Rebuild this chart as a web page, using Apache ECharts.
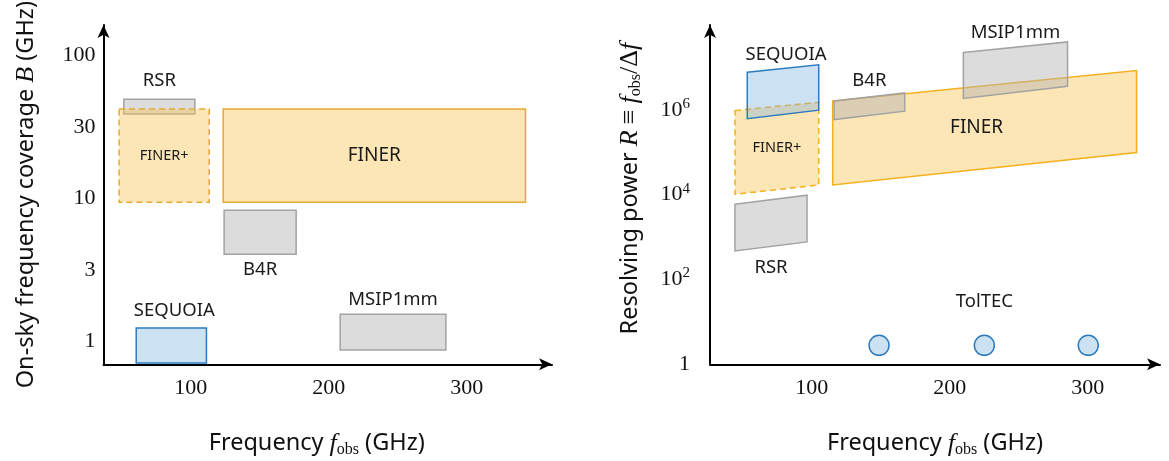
<!DOCTYPE html>
<html><head><meta charset="utf-8">
<script src="https://cdn.jsdelivr.net/npm/echarts@6/dist/echarts.min.js"></script>
<style>html,body{margin:0;padding:0;background:#fff}#c{width:1169px;height:461px}</style>
</head><body><div id="c"></div>
<script>
// ---------- LEFT PANEL: on-sky frequency coverage B (GHz) vs f_obs (GHz) ----------
const leftNames   = ['RSR', 'FINER+', 'FINER', 'B4R', 'SEQUOIA', 'MSIP1mm'];
const leftFreqLo  = [51.4, 48.0, 123.4, 124.1, 60.4, 208.2];
const leftFreqHi  = [102.9, 113.3, 342.5, 176.3, 111.3, 284.8];
const leftBwLo    = [38.9, 9.4, 9.4, 4.06, 0.705, 0.869];
const leftBwHi    = [49.2, 42.1, 42.1, 8.24, 1.24, 1.545];
const leftYTickValues = [1, 3.16, 10, 31.6, 100];
const leftYTickLabels = ['1', '3', '10', '30', '100'];

// ---------- RIGHT PANEL: resolving power R vs f_obs (GHz) ----------
const rightNames    = ['FINER', 'FINER+', 'SEQUOIA', 'B4R', 'RSR', 'MSIP1mm'];
const rightFreqLo   = [115.2, 44.4, 53.3, 116.2, 44.4, 209.9];
const rightFreqHi   = [335.4, 105.1, 105.1, 167.4, 96.6, 285.4];
const rightRLoAtLo  = [1.69e4, 1.02e4, 6.2e5, 5.9e5, 4.7e2, 1.85e6];
const rightRHiAtLo  = [1.62e6, 9.6e5, 7.7e6, 1.62e6, 5.9e3, 2.24e7];
const rightRLoAtHi  = [9.8e4, 1.69e4, 9.8e5, 9.3e5, 7.7e2, 3.6e6];
const rightRHiAtHi  = [8.45e6, 1.51e6, 1.15e7, 2.5e6, 9.7e3, 3.99e7];
const toltecFreq = [148.8, 225.1, 300.4];
const toltecR    = [2.8, 2.8, 2.8];
const rightYTickExponents = [0, 2, 4, 6];

const xTicks = [100, 200, 300];

// ---------- styles ----------
const ORANGE_FILL = 'rgba(250,195,80,0.42)';
const GRAY_FILL = 'rgba(178,178,178,0.45)';
const BLUE_FILL = 'rgba(120,180,220,0.38)';
const GRAY_LINE = '#a3a3a3';
const BLUE_LINE = '#2b7bbf';
const LABEL_FONT = '"Noto Sans", "DejaVu Sans", sans-serif';
const SERIF = '"Liberation Serif", "DejaVu Serif", serif';

function styleFor(panel, name) {
  const orangeLine = panel === 'L' ? '#e6a933' : '#f5b01e';
  const base = {
    'FINER':   {fill: ORANGE_FILL, stroke: orangeLine, dash: null, pos: 'inside', size: 19, dx: panel === 'L' ? 0 : -8, off: 0},
    'FINER+':  {fill: ORANGE_FILL, stroke: orangeLine, dash: [6, 4], pos: 'inside', size: 14.5, dx: 0, off: 0},
    'SEQUOIA': {fill: BLUE_FILL, stroke: BLUE_LINE, dash: null, pos: 'top', size: 18.5, dx: 3, off: panel === 'L' ? 17 : 14},
    'B4R':     {fill: GRAY_FILL, stroke: GRAY_LINE, dash: null, pos: panel === 'L' ? 'bottom' : 'top', size: 18.5, dx: 0, off: panel === 'L' ? 15 : 16},
    'RSR':     {fill: GRAY_FILL, stroke: GRAY_LINE, dash: null, pos: panel === 'L' ? 'top' : 'bottom', size: 18.5, dx: 0, off: panel === 'L' ? 19 : 21},
    'MSIP1mm': {fill: GRAY_FILL, stroke: GRAY_LINE, dash: null, pos: 'top', size: 18.5, dx: 0, off: 15}
  };
  return base[name];
}

function polySeries(panel, idx, names, fLo, fHi, loA, hiA, loB, hiB) {
  const data = names.map((n, i) => [fLo[i], fHi[i], loA[i], hiA[i], loB[i], hiB[i], i]);
  return {
    type: 'custom', xAxisIndex: idx, yAxisIndex: idx, data: data,
    encode: {x: [0, 1], y: [2, 3, 4, 5]},
    silent: true,
    renderItem: function (params, api) {
      const i = api.value(6);
      const name = names[i];
      const st = styleFor(panel, name);
      const tl = api.coord([api.value(0), api.value(3)]);
      const tr = api.coord([api.value(1), api.value(5)]);
      const br = api.coord([api.value(1), api.value(4)]);
      const bl = api.coord([api.value(0), api.value(2)]);
      let tx, ty;
      if (st.pos === 'inside') {
        tx = (tl[0] + tr[0] + br[0] + bl[0]) / 4;
        ty = (tl[1] + tr[1] + br[1] + bl[1]) / 4;
      } else if (st.pos === 'top') {
        tx = (tl[0] + tr[0]) / 2;
        ty = (tl[1] + tr[1]) / 2 - st.off;
      } else {
        tx = (bl[0] + br[0]) / 2;
        ty = (bl[1] + br[1]) / 2 + st.off;
      }
      return {
        type: 'group',
        children: [
          {
            type: 'polygon', z2: i,
            shape: {points: [tl, tr, br, bl]},
            style: {fill: st.fill, stroke: st.stroke, lineWidth: 1.5, lineDash: st.dash}
          },
          {
            type: 'text', z2: 100,
            x: tx + st.dx, y: ty,
            style: {text: name, fill: '#1a1a1a', fontFamily: LABEL_FONT, fontSize: st.size,
                    align: 'center', verticalAlign: 'middle'}
          }
        ]
      };
    }
  };
}

const axisLineStyle = {show: true, onZero: false, symbol: ['none', 'arrow'], symbolSize: [9, 13],
                       lineStyle: {color: '#000', width: 2}};
const nameRich = {
  i: {fontFamily: SERIF, fontStyle: 'italic', fontSize: 26, color: '#111'},
  sub: {fontFamily: SERIF, fontSize: 16, color: '#111', padding: [11, 0, 0, 0]},
  s: {fontFamily: SERIF, fontSize: 26, color: '#111'}
};
const nameStyle = {fontFamily: LABEL_FONT, fontSize: 23.5, color: '#111', rich: nameRich};

function xAxisDef(idx, min, max, pad) {
  return {
    gridIndex: idx, type: 'value', min: min, max: max,
    axisLine: axisLineStyle, axisTick: {show: false}, splitLine: {show: false},
    axisLabel: {customValues: xTicks, fontFamily: SERIF, fontSize: 22, color: '#111', margin: 13},
    name: 'Frequency {i|f}{sub|obs} (GHz)', nameLocation: 'middle', nameGap: 66,
    nameTextStyle: Object.assign({}, nameStyle, {padding: pad})
  };
}

const option = {
  animation: false,
  backgroundColor: '#fff',
  grid: [
    {left: 103.5, top: 25, width: 448.5, height: 339.3, containLabel: false, outerBoundsMode: 'none'},
    {left: 710, top: 25, width: 450, height: 339.3, containLabel: false, outerBoundsMode: 'none'}
  ],
  xAxis: [
    xAxisDef(0, 36.7, 361.7, [0, 22, 0, 0]),
    xAxisDef(1, 26.3, 352.4, [0, 0, 0, 0])
  ],
  yAxis: [
    {
      gridIndex: 0, type: 'log', logBase: 10, min: 0.69, max: 163,
      axisLine: axisLineStyle, axisTick: {show: false}, splitLine: {show: false},
      axisLabel: {
        customValues: leftYTickValues, fontFamily: SERIF, fontSize: 22, color: '#111', margin: 8,
        formatter: function (v) {
          let best = 0;
          leftYTickValues.forEach((t, k) => { if (Math.abs(Math.log10(t) - Math.log10(v)) < Math.abs(Math.log10(leftYTickValues[best]) - Math.log10(v))) best = k; });
          return leftYTickLabels[best];
        }
      },
      name: 'On-sky frequency coverage {i|B} (GHz)', nameLocation: 'middle', nameRotate: 90, nameGap: 64,
      nameTextStyle: nameStyle
    },
    {
      gridIndex: 1, type: 'log', logBase: 10, min: 1, max: 1e8,
      axisLine: axisLineStyle, axisTick: {show: false}, splitLine: {show: false},
      axisLabel: {
        customValues: rightYTickExponents.map(e => Math.pow(10, e)),
        fontFamily: SERIF, fontSize: 22, color: '#111', margin: 20,
        formatter: function (v) {
          const e = Math.round(Math.log10(v));
          return e === 0 ? '1' : '10{sup|' + e + '}';
        },
        rich: {sup: {fontFamily: SERIF, fontSize: 15, color: '#111', padding: [0, 0, 12, 0]}}
      },
      name: 'Resolving power {i|R} {s|≡} {i|f}{sub|obs}{s|/Δ}{i|f}', nameLocation: 'middle', nameRotate: 90, nameGap: 66,
      nameTextStyle: Object.assign({}, nameStyle, {padding: [0, 0, 0, 12]})
    }
  ],
  series: [
    polySeries('L', 0, leftNames, leftFreqLo, leftFreqHi, leftBwLo, leftBwHi, leftBwLo, leftBwHi),
    polySeries('R', 1, rightNames, rightFreqLo, rightFreqHi, rightRLoAtLo, rightRHiAtLo, rightRLoAtHi, rightRHiAtHi),
    {
      type: 'scatter', xAxisIndex: 1, yAxisIndex: 1, symbol: 'circle', symbolSize: 20, silent: true,
      itemStyle: {color: BLUE_FILL, borderColor: BLUE_LINE, borderWidth: 1.5, opacity: 1},
      data: toltecFreq.map((f, i) => ({
        value: [f, toltecR[i]],
        label: {show: i === 1, formatter: 'TolTEC', position: 'top', distance: 23,
                fontFamily: LABEL_FONT, fontSize: 18.5, color: '#1a1a1a'}
      }))
    }
  ]
};

const chart = echarts.init(document.getElementById('c'), null, {renderer: 'canvas'});
chart.setOption(option);
</script>
</body></html>
